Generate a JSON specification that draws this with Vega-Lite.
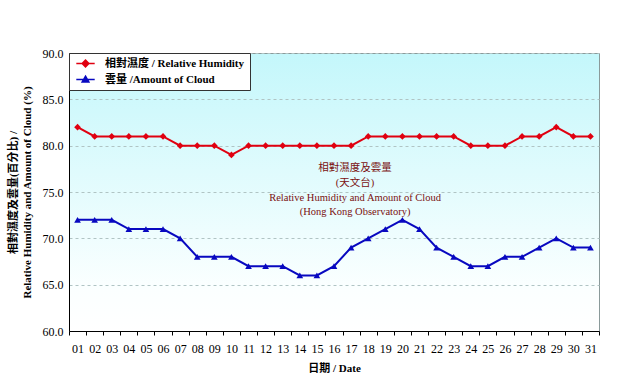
{
  "$schema": "https://vega.github.io/schema/vega-lite/v6.json",
  "width": 530,
  "height": 278,
  "autosize": {"type": "none"},
  "padding": {"left": 69, "top": 53, "right": 36, "bottom": 59},
  "background": "white",
  "config": {
    "font": "'Liberation Serif', 'Noto Sans CJK TC'",
    "view": {
      "stroke": "#8a9a9a",
      "strokeWidth": 1,
      "fill": {"gradient": "linear", "x1": 0, "y1": 0, "x2": 0, "y2": 1,
        "stops": [{"offset": 0, "color": "#c4f7fb"}, {"offset": 0.85, "color": "#fbffff"}, {"offset": 1, "color": "#ffffff"}]}
    },
    "legend": {
      "title": null, "orient": "top-left", "offset": 0,
      "fillColor": "white", "strokeColor": "#333333", "padding": 5,
      "labelFont": "'Liberation Serif', 'Noto Sans CJK TC'", "labelFontSize": 11, "labelFontWeight": "bold", "labelColor": "black",
      "symbolSize": 50, "rowPadding": 3, "labelOffset": 14, "symbolOffset": 6
    }
  },
  "datasets": {
    "series": [
      {"day": "01", "series": "相對濕度 / Relative Humidity", "value": 82},
      {"day": "02", "series": "相對濕度 / Relative Humidity", "value": 81},
      {"day": "03", "series": "相對濕度 / Relative Humidity", "value": 81},
      {"day": "04", "series": "相對濕度 / Relative Humidity", "value": 81},
      {"day": "05", "series": "相對濕度 / Relative Humidity", "value": 81},
      {"day": "06", "series": "相對濕度 / Relative Humidity", "value": 81},
      {"day": "07", "series": "相對濕度 / Relative Humidity", "value": 80},
      {"day": "08", "series": "相對濕度 / Relative Humidity", "value": 80},
      {"day": "09", "series": "相對濕度 / Relative Humidity", "value": 80},
      {"day": "10", "series": "相對濕度 / Relative Humidity", "value": 79},
      {"day": "11", "series": "相對濕度 / Relative Humidity", "value": 80},
      {"day": "12", "series": "相對濕度 / Relative Humidity", "value": 80},
      {"day": "13", "series": "相對濕度 / Relative Humidity", "value": 80},
      {"day": "14", "series": "相對濕度 / Relative Humidity", "value": 80},
      {"day": "15", "series": "相對濕度 / Relative Humidity", "value": 80},
      {"day": "16", "series": "相對濕度 / Relative Humidity", "value": 80},
      {"day": "17", "series": "相對濕度 / Relative Humidity", "value": 80},
      {"day": "18", "series": "相對濕度 / Relative Humidity", "value": 81},
      {"day": "19", "series": "相對濕度 / Relative Humidity", "value": 81},
      {"day": "20", "series": "相對濕度 / Relative Humidity", "value": 81},
      {"day": "21", "series": "相對濕度 / Relative Humidity", "value": 81},
      {"day": "22", "series": "相對濕度 / Relative Humidity", "value": 81},
      {"day": "23", "series": "相對濕度 / Relative Humidity", "value": 81},
      {"day": "24", "series": "相對濕度 / Relative Humidity", "value": 80},
      {"day": "25", "series": "相對濕度 / Relative Humidity", "value": 80},
      {"day": "26", "series": "相對濕度 / Relative Humidity", "value": 80},
      {"day": "27", "series": "相對濕度 / Relative Humidity", "value": 81},
      {"day": "28", "series": "相對濕度 / Relative Humidity", "value": 81},
      {"day": "29", "series": "相對濕度 / Relative Humidity", "value": 82},
      {"day": "30", "series": "相對濕度 / Relative Humidity", "value": 81},
      {"day": "31", "series": "相對濕度 / Relative Humidity", "value": 81},
      {"day": "01", "series": "雲量 /Amount of Cloud", "value": 72},
      {"day": "02", "series": "雲量 /Amount of Cloud", "value": 72},
      {"day": "03", "series": "雲量 /Amount of Cloud", "value": 72},
      {"day": "04", "series": "雲量 /Amount of Cloud", "value": 71},
      {"day": "05", "series": "雲量 /Amount of Cloud", "value": 71},
      {"day": "06", "series": "雲量 /Amount of Cloud", "value": 71},
      {"day": "07", "series": "雲量 /Amount of Cloud", "value": 70},
      {"day": "08", "series": "雲量 /Amount of Cloud", "value": 68},
      {"day": "09", "series": "雲量 /Amount of Cloud", "value": 68},
      {"day": "10", "series": "雲量 /Amount of Cloud", "value": 68},
      {"day": "11", "series": "雲量 /Amount of Cloud", "value": 67},
      {"day": "12", "series": "雲量 /Amount of Cloud", "value": 67},
      {"day": "13", "series": "雲量 /Amount of Cloud", "value": 67},
      {"day": "14", "series": "雲量 /Amount of Cloud", "value": 66},
      {"day": "15", "series": "雲量 /Amount of Cloud", "value": 66},
      {"day": "16", "series": "雲量 /Amount of Cloud", "value": 67},
      {"day": "17", "series": "雲量 /Amount of Cloud", "value": 69},
      {"day": "18", "series": "雲量 /Amount of Cloud", "value": 70},
      {"day": "19", "series": "雲量 /Amount of Cloud", "value": 71},
      {"day": "20", "series": "雲量 /Amount of Cloud", "value": 72},
      {"day": "21", "series": "雲量 /Amount of Cloud", "value": 71},
      {"day": "22", "series": "雲量 /Amount of Cloud", "value": 69},
      {"day": "23", "series": "雲量 /Amount of Cloud", "value": 68},
      {"day": "24", "series": "雲量 /Amount of Cloud", "value": 67},
      {"day": "25", "series": "雲量 /Amount of Cloud", "value": 67},
      {"day": "26", "series": "雲量 /Amount of Cloud", "value": 68},
      {"day": "27", "series": "雲量 /Amount of Cloud", "value": 68},
      {"day": "28", "series": "雲量 /Amount of Cloud", "value": 69},
      {"day": "29", "series": "雲量 /Amount of Cloud", "value": 70},
      {"day": "30", "series": "雲量 /Amount of Cloud", "value": 69},
      {"day": "31", "series": "雲量 /Amount of Cloud", "value": 69}
    ],
    "notes": [
      {"day": "17", "value": 77.6, "text": "相對濕度及雲量"},
      {"day": "17", "value": 76.0, "text": "(天文台)"},
      {"day": "17", "value": 74.35, "text": "Relative Humidity and Amount of Cloud"},
      {"day": "17", "value": 72.85, "text": "(Hong Kong Observatory)"}
    ]
  },
  "encoding": {
    "x": {
      "field": "day", "type": "ordinal",
      "scale": {"type": "band", "paddingInner": 0, "paddingOuter": 0},
      "axis": {
        "title": "日期 / Date",
        "titleFont": "'Liberation Serif', 'Noto Sans CJK TC'",
        "titleFontSize": 11, "titleFontWeight": "bold", "titleColor": "black",
        "titlePadding": 8,
        "labelAngle": 0, "labelFontSize": 12, "labelColor": "black", "labelPadding": 8,
        "domainColor": "black", "tickColor": "black", "tickSize": 4, "tickBand": "extent",
        "grid": false
      }
    },
    "y": {
      "field": "value", "type": "quantitative",
      "scale": {"domain": [60, 90], "nice": false, "zero": false},
      "axis": {
        "values": [60, 65, 70, 75, 80, 85, 90],
        "format": ".1f",
        "title": ["相對濕度及雲量(百分比) /", "Relative Humidity and Amount of Cloud (%)"],
        "titleFont": "'Liberation Serif', 'Noto Sans CJK TC'",
        "titleFontSize": 11, "titleFontWeight": "bold", "titleColor": "black",
        "titlePadding": 10, "titleLineHeight": 14,
        "labelFontSize": 12, "labelColor": "black", "labelPadding": 6,
        "domainColor": "black", "ticks": false,
        "grid": true, "gridColor": "#b0c4c4", "gridDash": [3, 3], "gridWidth": 1
      }
    }
  },
  "layer": [
    {
      "data": {"name": "series"},
      "mark": {"type": "line", "strokeWidth": 2},
      "encoding": {
        "color": {
          "field": "series", "type": "nominal",
          "scale": {"domain": ["相對濕度 / Relative Humidity", "雲量 /Amount of Cloud"], "range": ["#e00010", "#0808c0"]},
          "legend": {
            "symbolType": "M-2.6,0H2.6",
            "encode": {
              "symbols": {
                "update": {
                  "shape": {"signal": "datum.value === '雲量 /Amount of Cloud' ? 'M-2.6,0H2.6M0,-0.95L0.95,0.7L-0.95,0.7Z' : 'M-2.6,0H2.6M0,-0.95L0.95,0L0,0.95L-0.95,0Z'"},
                  "fill": {"signal": "datum.value === '雲量 /Amount of Cloud' ? '#0808c0' : '#e00010'"},
                  "stroke": {"signal": "datum.value === '雲量 /Amount of Cloud' ? '#0808c0' : '#e00010'"},
                  "strokeWidth": {"value": 1.5}
                }
              }
            }
          }
        }
      }
    },
    {
      "data": {"name": "series"},
      "transform": [{"filter": "datum.series === '相對濕度 / Relative Humidity'"}],
      "mark": {"type": "point", "shape": "diamond", "filled": true, "size": 45, "opacity": 1, "color": "#e00010"}
    },
    {
      "data": {"name": "series"},
      "transform": [{"filter": "datum.series === '雲量 /Amount of Cloud'"}],
      "mark": {"type": "point", "shape": "triangle-up", "filled": true, "size": 45, "opacity": 1, "color": "#0808c0"}
    },
    {
      "data": {"name": "notes"},
      "mark": {"type": "text", "fontSize": 10.5, "font": "'Liberation Serif', 'Noto Sans CJK TC'", "baseline": "middle", "align": "center", "dx": 4, "color": "#7a1010"},
      "encoding": {
        "text": {"field": "text"}
      }
    }
  ]
}
